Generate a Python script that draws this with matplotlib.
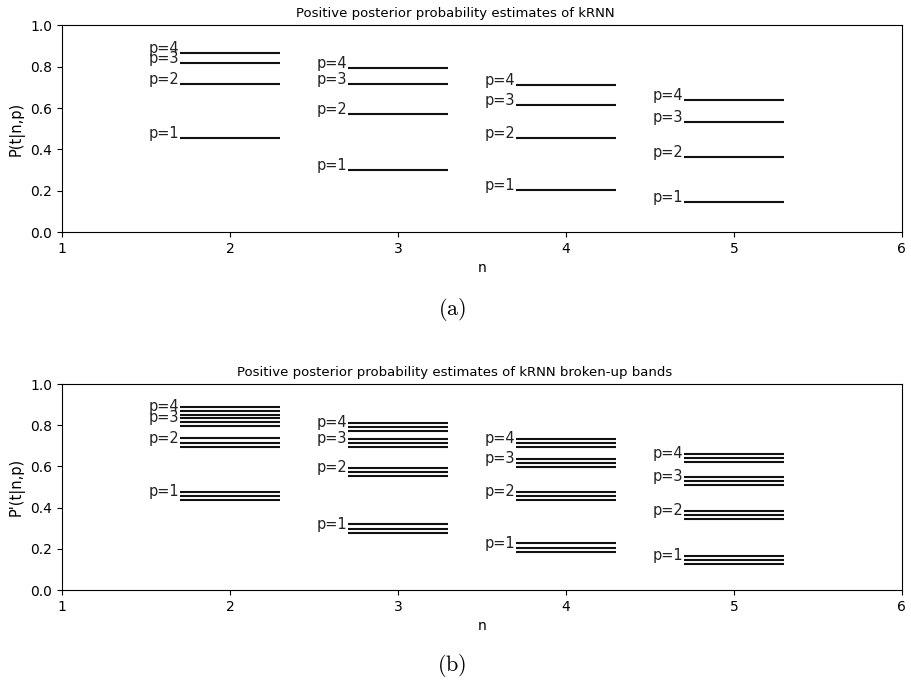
import matplotlib
matplotlib.use('Agg')
import matplotlib.pyplot as plt
import matplotlib.ticker as tick

# n values and labels
n_vals = [2, 3, 4, 5]
p_labels = ['p=1', 'p=2', 'p=3', 'p=4']

# P(t|n,p) estimates, one list per p (over n = 2..5)
est_p1 = [0.457, 0.299, 0.206, 0.147]
est_p2 = [0.715, 0.574, 0.456, 0.365]
est_p3 = [0.817, 0.715, 0.617, 0.531]
est_p4 = [0.867, 0.792, 0.714, 0.641]

# broken-up bands: three lines per (p, n)
band_p1 = [[0.477, 0.458, 0.437], [0.319, 0.298, 0.278], [0.227, 0.205, 0.184], [0.165, 0.146, 0.125]]
band_p2 = [[0.737, 0.716, 0.696], [0.594, 0.573, 0.553], [0.477, 0.458, 0.437], [0.385, 0.364, 0.345]]
band_p3 = [[0.837, 0.817, 0.796], [0.734, 0.715, 0.696], [0.637, 0.617, 0.596], [0.550, 0.531, 0.510]]
band_p4 = [[0.888, 0.869, 0.850], [0.812, 0.793, 0.773], [0.733, 0.714, 0.694], [0.660, 0.639, 0.620]]

est = [est_p1, est_p2, est_p3, est_p4]
bands = [band_p1, band_p2, band_p3, band_p4]

hw = 0.3  # half width of a line around n
fs = 10

plt.rcParams.update({'font.size': fs, 'mathtext.fontset': 'cm'})
fig = plt.figure(figsize=(9.11, 6.87), dpi=100)
ax1 = fig.add_axes([0.068, 0.662, 0.922, 0.301])
ax2 = fig.add_axes([0.068, 0.141, 0.922, 0.300])


def style(ax, title, ylab):
    ax.set_xlim(1, 6)
    ax.set_ylim(0, 1)
    ax.xaxis.set_major_locator(tick.MultipleLocator(1))
    ax.yaxis.set_major_locator(tick.MultipleLocator(0.2))
    ax.yaxis.set_major_formatter(tick.FormatStrFormatter('%.1f'))
    ax.set_xlabel('n', fontsize=fs)
    ax.set_ylabel(ylab, fontsize=fs + 0.5)
    # title sits over the centre of the figure, not the axes
    ax.set_title(title, fontsize=9.5, x=0.468)
    ax.tick_params(labelsize=fs)


for i in range(4):
    for j, n in enumerate(n_vals):
        y = est[i][j]
        ax1.hlines(y, n - hw, n + hw, color='#111111', lw=1.5)
        ax1.text(n - hw, y, p_labels[i], ha='right', va='baseline', fontsize=10.5, color='#222222')

        for yb in bands[i][j]:
            ax2.hlines(yb, n - hw, n + hw, color='#111111', lw=1.5)
        ax2.text(n - hw, bands[i][j][1], p_labels[i], ha='right', va='baseline', fontsize=10.5, color='#222222')

style(ax1, 'Positive posterior probability estimates of kRNN', 'P(t|n,p)')
style(ax2, 'Positive posterior probability estimates of kRNN broken-up bands', "P'(t|n,p)")

fig.text(0.496, 0.549, r'$\mathrm{(a)}$', ha='center', va='center', fontsize=16)
fig.text(0.496, 0.032, r'$\mathrm{(b)}$', ha='center', va='center', fontsize=16)

fig.savefig('out.png', dpi=100)
